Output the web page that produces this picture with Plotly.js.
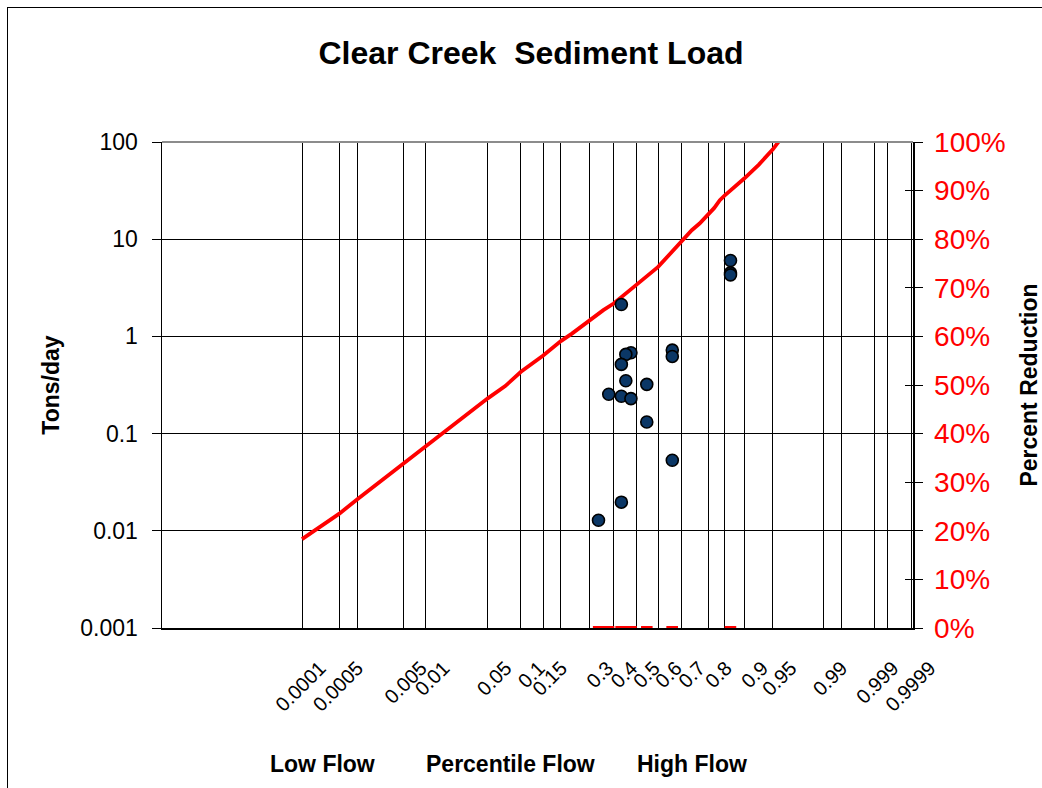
<!DOCTYPE html>
<html>
<head>
<meta charset="utf-8">
<script src="https://cdn.plot.ly/plotly-3.0.1.min.js"></script>
<style>
  html, body { margin: 0; padding: 0; background: #fff; overflow: hidden; }
  #chart { position: absolute; left: 0; top: 0; width: 1042px; height: 788px; }
  #frame { position: absolute; left: 7px; top: 7px; width: 1100px; height: 900px;
           border: 1px solid #000; pointer-events: none; }
</style>
</head>
<body>
<div id="chart"></div>
<div id="frame"></div>
<script>
// ---------- data ----------
// probability-axis gridline values and their labels
const gridPercentiles = [0.0001, 0.0005, 0.001, 0.005, 0.01, 0.05, 0.1, 0.15, 0.2, 0.3, 0.4, 0.5,
                         0.6, 0.7, 0.8, 0.85, 0.9, 0.95, 0.99, 0.995, 0.999, 0.9995, 0.9999];
const gridLabels = ["0.0001", "0.0005", "", "0.005", "0.01", "0.05", "0.1", "0.15", "", "0.3", "0.4", "0.5",
                    "0.6", "0.7", "0.8", "", "0.9", "0.95", "0.99", "", "0.999", "", "0.9999"];

// load duration curve (allowable load, tons/day) vs flow percentile
const curvePercentile = [0.0001, 0.0005, 0.001, 0.005, 0.01, 0.0224, 0.05, 0.073, 0.1, 0.15, 0.2, 0.236,
                         0.3, 0.356, 0.4, 0.439, 0.5, 0.6, 0.659, 0.7, 0.741, 0.770, 0.8, 0.820, 0.837,
                         0.85, 0.9, 0.9287, 0.95, 0.9626];
const curveLoad = [0.0082, 0.0150, 0.0210, 0.0487, 0.0746, 0.1276, 0.2306, 0.3083, 0.4325, 0.635, 0.895, 1.069,
                   1.471, 1.864, 2.18, 2.61, 3.37, 5.19, 7.40, 9.38, 12.38, 14.5, 18.07, 20.98, 25.2,
                   27.9, 42.1, 58.6, 84.1, 117];

// observed sediment loads
const samplePercentile = [0.434, 0.477, 0.454, 0.434, 0.454, 0.549, 0.379, 0.434, 0.477, 0.549,
                          0.662, 0.662, 0.662, 0.434, 0.336, 0.867, 0.867, 0.867];
const sampleLoad = [2.13, 0.678, 0.653, 0.515, 0.350, 0.321, 0.254, 0.242, 0.229, 0.1316,
                    0.723, 0.622, 0.0532, 0.0197, 0.01285, 6.04, 4.5, 4.3];
const sampleReduction = [0, 0, 0, 0, 0, 0, 0, 0, 0, 0, 0, 0, 0, 0, 0, 0, 0, 0];

const loadTicks = [0.001, 0.01, 0.1, 1, 10, 100];
const loadTickText = ["0.001", "0.01", "0.1", "1", "10", "100"];
const reductionTicks = [0, 0.1, 0.2, 0.3, 0.4, 0.5, 0.6, 0.7, 0.8, 0.9, 1.0];

// ---------- probability axis transform ----------
function normInv(p) {
  const a = [-3.969683028665376e+01, 2.209460984245205e+02, -2.759285104469687e+02, 1.383577518672690e+02, -3.066479806614716e+01, 2.506628277459239e+00];
  const b = [-5.447609879822406e+01, 1.615858368580409e+02, -1.556989798598866e+02, 6.680131188771972e+01, -1.328068155288572e+01];
  const c = [-7.784894002430293e-03, -3.223964580411365e-01, -2.400758277161838e+00, -2.549732539343734e+00, 4.374664141464968e+00, 2.938163982698783e+00];
  const d = [7.784695709041462e-03, 3.224671290700398e-01, 2.445134137142996e+00, 3.754408661907416e+00];
  const pl = 0.02425, ph = 1 - pl;
  let q, r;
  if (p < pl) {
    q = Math.sqrt(-2 * Math.log(p));
    return (((((c[0]*q+c[1])*q+c[2])*q+c[3])*q+c[4])*q+c[5]) / ((((d[0]*q+d[1])*q+d[2])*q+d[3])*q+1);
  }
  if (p <= ph) {
    q = p - 0.5; r = q * q;
    return (((((a[0]*r+a[1])*r+a[2])*r+a[3])*r+a[4])*r+a[5])*q / (((((b[0]*r+b[1])*r+b[2])*r+b[3])*r+b[4])*r+1);
  }
  q = Math.sqrt(-2 * Math.log(1 - p));
  return -(((((c[0]*q+c[1])*q+c[2])*q+c[3])*q+c[4])*q+c[5]) / ((((d[0]*q+d[1])*q+d[2])*q+d[3])*q+1);
}
// the original chart's probability scale is slightly compressed toward high percentiles
function probAxis(p) {
  const z = normInv(p);
  return z - 0.02392 * z * z - 0.004784 * z * z * z;
}

const FONT = "Liberation Sans, Arial, Helvetica, sans-serif";

const traces = [
  {
    x: curvePercentile.map(probAxis), y: curveLoad,
    xaxis: "x", yaxis: "y",
    type: "scatter", mode: "lines",
    line: { color: "#ff0000", width: 3.8 },
    hoverinfo: "skip"
  },
  {
    x: samplePercentile.map(probAxis), y: sampleLoad,
    xaxis: "x", yaxis: "y",
    type: "scatter", mode: "markers",
    marker: { symbol: "circle", size: 12, color: "#0b3766", line: { color: "#000", width: 1.6 } },
    hoverinfo: "skip"
  },
  {
    x: samplePercentile.map(probAxis), y: sampleReduction,
    xaxis: "x", yaxis: "y2",
    type: "scatter", mode: "markers",
    marker: { symbol: "line-ew", size: 8, color: "#ff0000", line: { color: "#ff0000", width: 4 } },
    cliponaxis: false,
    hoverinfo: "skip"
  },
  { x: [], y: [], xaxis: "x", yaxis: "y3", type: "scatter", mode: "markers", hoverinfo: "skip" }
];

const layout = {
  width: 1042, height: 788,
  margin: { l: 162, r: 129, t: 142, b: 160, pad: 0 },
  paper_bgcolor: "#fff", plot_bgcolor: "#fff",
  showlegend: false,
  font: { family: FONT, color: "#000" },
  title: {
    text: "Clear Creek\u00a0 Sediment Load",
    font: { family: FONT, size: 32, weight: "bold", color: "#000" },
    xref: "container", yref: "container",
    x: 531 / 1042, xanchor: "center",
    y: 1 - 53 / 788, yanchor: "middle"
  },
  xaxis: {
    type: "linear",
    range: [-5.399, 3.155],
    tickmode: "array",
    tickvals: gridPercentiles.map(probAxis),
    ticktext: gridLabels,
    tickangle: -45,
    tickfont: { family: FONT, size: 20, color: "#000" },
    ticks: "",
    ticklabelshift: 18,
    ticklabelstandoff: 19,
    showgrid: true, gridcolor: "#000", gridwidth: 1,
    zeroline: false,
    showline: true, linecolor: "#000", linewidth: 1.5,
    fixedrange: true
  },
  yaxis: {
    type: "log",
    range: [-3, 2],
    tickmode: "array",
    tickvals: loadTicks, ticktext: loadTickText,
    tickfont: { family: FONT, size: 23, color: "#000" },
    ticks: "outside", ticklen: 9, tickcolor: "#000", tickwidth: 1,
    ticklabelstandoff: 9,
    showgrid: true, gridcolor: "#000", gridwidth: 1,
    zeroline: false,
    showline: true, linecolor: "#000", linewidth: 1.5,
    title: { text: "Tons/day", font: { family: FONT, size: 23, weight: "bold", color: "#000" }, standoff: 14 },
    fixedrange: true
  },
  yaxis2: {
    overlaying: "y", side: "right", anchor: "x",
    range: [0, 1],
    tickmode: "array", tickvals: reductionTicks, tickformat: ".0%",
    tickfont: { family: FONT, size: 28, color: "#ff0000" },
    ticks: "outside", ticklen: 8, tickcolor: "#000", tickwidth: 1,
    ticklabelstandoff: 6,
    showgrid: false, zeroline: false,
    showline: true, linecolor: "#000", linewidth: 1.5,
    title: { text: "Percent Reduction", font: { family: FONT, size: 23, weight: "bold", color: "#000" }, standoff: 17 },
    fixedrange: true
  },
  yaxis3: {
    overlaying: "y", side: "right", anchor: "x",
    range: [0, 1],
    tickmode: "array", tickvals: reductionTicks,
    showticklabels: false,
    ticks: "inside", ticklen: 8, tickcolor: "#000", tickwidth: 1,
    showgrid: false, zeroline: false, showline: false,
    fixedrange: true
  },
  shapes: [
    { type: "line", xref: "paper", yref: "paper", x0: 0, x1: 1, y0: 1, y1: 1,
      line: { color: "#8c8c8c", width: 2 }, layer: "above" }
  ],
  annotations: [
    { text: "Low Flow", xref: "paper", yref: "paper", x: (322 - 162) / 751, y: (628 - 764) / 486,
      xanchor: "center", yanchor: "middle", showarrow: false,
      font: { family: FONT, size: 23, weight: "bold", color: "#000" } },
    { text: "Percentile Flow", xref: "paper", yref: "paper", x: (510 - 162) / 751, y: (628 - 764) / 486,
      xanchor: "center", yanchor: "middle", showarrow: false,
      font: { family: FONT, size: 23, weight: "bold", color: "#000" } },
    { text: "High Flow", xref: "paper", yref: "paper", x: (692 - 162) / 751, y: (628 - 764) / 486,
      xanchor: "center", yanchor: "middle", showarrow: false,
      font: { family: FONT, size: 23, weight: "bold", color: "#000" } }
  ]
};

Plotly.newPlot("chart", traces, layout, { staticPlot: true, displayModeBar: false });
</script>
</body>
</html>
